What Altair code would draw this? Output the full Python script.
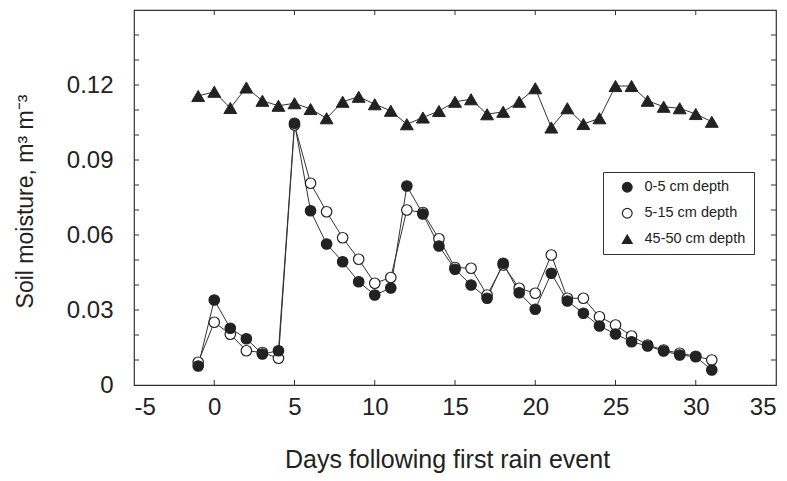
import altair as alt
import pandas as pd

# ---- data ----
days = list(range(-1, 32))

shallow = [0.0076, 0.034, 0.0227, 0.0185, 0.0124, 0.0137, 0.1047, 0.0697, 0.0564, 0.0493,
           0.0413, 0.036, 0.0388, 0.0796, 0.0684, 0.0556, 0.0463, 0.040, 0.0347, 0.0487,
           0.0369, 0.0303, 0.0447, 0.0336, 0.0287, 0.0236, 0.0204, 0.0173, 0.0156, 0.0136,
           0.012, 0.0113, 0.006]

middle = [0.0091, 0.0251, 0.0203, 0.0137, 0.013, 0.0107, 0.104, 0.0807, 0.0693, 0.0589,
          0.0503, 0.0407, 0.043, 0.070, 0.069, 0.0585, 0.047, 0.0467, 0.036, 0.048,
          0.0387, 0.0367, 0.052, 0.0347, 0.0347, 0.0273, 0.024, 0.0196, 0.016, 0.014,
          0.0127, 0.0115, 0.010]

deep = [0.1156, 0.1173, 0.1108, 0.119, 0.1137, 0.1117, 0.1127, 0.1104, 0.1067, 0.1133,
        0.1153, 0.1123, 0.1097, 0.1043, 0.107, 0.1096, 0.1133, 0.1143, 0.1083, 0.1093,
        0.1133, 0.1187, 0.103, 0.1107, 0.1044, 0.1067, 0.1196, 0.1196, 0.1137, 0.1113,
        0.1107, 0.1084, 0.1053]

series_names = ["0-5 cm depth", "5-15 cm depth", "45-50 cm depth"]
x_label_values = [-5, 0, 5, 10, 15, 20, 25, 30, 35]
y_label_values = [0, 0.03, 0.06, 0.09, 0.12]
x_tick_values = [0, 5, 10, 15, 20, 25, 30]
y_tick_values = [0.01, 0.02, 0.03, 0.04, 0.05, 0.06, 0.07, 0.08, 0.09, 0.10,
                 0.11, 0.12, 0.13, 0.14]

# ---- tables ----
def table(pairs):
    rows = []
    for name, vals in pairs:
        for d, v in zip(days, vals):
            rows.append({"day": d, "value": v, "series": name})
    return pd.DataFrame(rows)

# draw order: open circles first, filled on top
df_circ = table([(series_names[1], middle), (series_names[0], shallow)])
df_tri = table([(series_names[2], deep)])
df_all = table([(series_names[1], middle), (series_names[0], shallow), (series_names[2], deep)])

xt = pd.DataFrame({"day": x_tick_values})
yt = pd.DataFrame({"value": y_tick_values})

W, H = 642, 375
FONT = "Liberation Sans"
TXT = "#222222"
INK = "#222222"

x_enc = alt.X(
    "day:Q",
    scale=alt.Scale(domain=[-5, 35], nice=False, zero=False),
    axis=alt.Axis(
        values=x_label_values,
        labelExpr="'' + datum.value",
        ticks=False, domain=False, grid=False,
        labelPadding=10, labelFontSize=24, labelFont=FONT, labelColor=TXT,
        title="Days following first  rain event",
        titleFontSize=25, titleFont=FONT, titleFontWeight="normal", titleColor=TXT,
        titlePadding=28, titleX=313,
    ),
)
y_enc = alt.Y(
    "value:Q",
    scale=alt.Scale(domain=[0, 0.15], nice=False, zero=True),
    axis=alt.Axis(
        values=y_label_values,
        format=".2~f",
        ticks=False, domain=False, grid=False,
        labelPadding=21, labelFontSize=24, labelFont=FONT, labelColor=TXT,
        title="Soil moisture, m³ m⁻³",
        titleFontSize=23, titleFont=FONT, titleFontWeight="normal", titleColor=TXT,
        titleX=-109, titleY=191, titleAngle=-90, titleBaseline="middle", titleAlign="center",
    ),
)

legend_def = alt.Legend(title=None, orient="none", legendX=469, legendY=162)

shape_enc = alt.Shape(
    "series:N",
    scale=alt.Scale(domain=series_names, range=["circle", "circle", "triangle-up"]),
    legend=legend_def,
)
fill_enc = alt.Fill(
    "series:N",
    scale=alt.Scale(domain=series_names, range=[INK, "white", INK]),
    legend=legend_def,
)
stroke_enc = alt.Stroke(
    "series:N",
    scale=alt.Scale(domain=series_names, range=[INK, INK, INK]),
    legend=legend_def,
)

lines = alt.Chart(df_all).mark_line(color="#333333", strokeWidth=1).encode(
    x=x_enc, y=y_enc, detail="series:N"
)

circles = alt.Chart(df_circ).mark_point(
    filled=True, strokeWidth=1.2, size=110, opacity=1
).encode(x=x_enc, y=y_enc, shape=shape_enc, fill=fill_enc, stroke=stroke_enc)

triangles = alt.Chart(df_tri).mark_point(
    filled=True, strokeWidth=1, size=165, opacity=1
).encode(x=x_enc, y=y_enc, shape=shape_enc, fill=fill_enc, stroke=stroke_enc)

tick_col = "#333333"
left_ticks = alt.Chart(yt).mark_rule(color=tick_col, strokeWidth=1).encode(
    y=y_enc, x=alt.value(0), x2=alt.value(5)
)
right_ticks = alt.Chart(yt).mark_rule(color=tick_col, strokeWidth=1).encode(
    y=y_enc, x=alt.value(W - 5), x2=alt.value(W)
)
bottom_ticks = alt.Chart(xt).mark_rule(color=tick_col, strokeWidth=1).encode(
    x=x_enc, y=alt.value(H - 5), y2=alt.value(H)
)
top_ticks = alt.Chart(xt).mark_rule(color=tick_col, strokeWidth=1).encode(
    x=x_enc, y=alt.value(0), y2=alt.value(5)
)

chart = (
    alt.layer(lines, circles, triangles, left_ticks, right_ticks, bottom_ticks, top_ticks)
    .properties(
        width=W, height=H,
        autosize=alt.AutoSizeParams(type="none"),
        padding={"left": 134, "top": 10, "right": 11, "bottom": 96},
        background="white",
    )
    .configure_view(stroke="#333333", strokeWidth=1.2)
    .configure_legend(
        strokeColor="#333333", fillColor="white", padding=8,
        symbolSize=95, symbolStrokeWidth=1.2, symbolOffset=9,
        labelFontSize=14.5, labelFont=FONT, labelColor=TXT, labelOffset=10,
        rowPadding=10,
    )
)

chart.save("out.html", embed_options={"renderer": "svg", "actions": False})
